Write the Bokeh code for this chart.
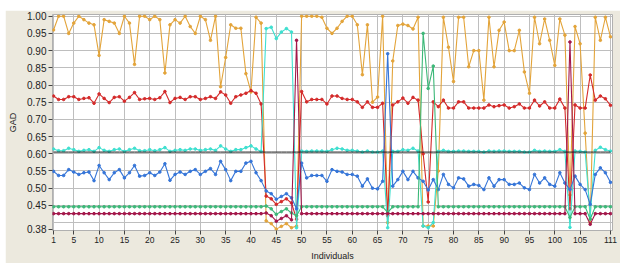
from bokeh.plotting import figure
from bokeh.models import FixedTicker, Range1d, NumeralTickFormatter
from bokeh.embed import file_html
from bokeh.resources import INLINE

individuals = list(range(1, 112))

x_ticks = [1, 5, 10, 15, 20, 25, 30, 35, 40, 45, 50, 55, 60, 65, 70, 75, 80, 85,
           90, 95, 100, 105, 111]
y_ticks = [0.38, 0.45, 0.50, 0.55, 0.60, 0.65, 0.70, 0.75, 0.80, 0.85, 0.90, 0.95, 1.00]
y_grid = [0.40, 0.45, 0.50, 0.55, 0.60, 0.65, 0.70, 0.75, 0.80, 0.85, 0.90, 0.95, 1.00]

orange = [0.96, 1.0, 1.0, 0.95, 0.98, 1.0, 0.99, 0.98, 0.975, 0.886,
          0.99, 0.985, 0.98, 0.95, 1.0, 0.98, 0.86, 1.0, 1.0, 0.99,
          1.0, 0.99, 0.835, 0.975, 0.99, 0.98, 1.0, 0.97, 0.95, 1.0,
          0.99, 0.93, 1.0, 0.795, 0.88, 0.975, 0.965, 0.965, 0.833, 0.78,
          0.997, 0.98, 0.405, 0.397, 0.381, 0.389, 0.397, 0.385, 0.39, 1.0,
          1.0, 1.0, 1.0, 0.997, 0.965, 0.95, 0.965, 0.985, 1.0, 1.0,
          0.975, 0.83, 0.975, 0.75, 0.765, 1.0, 0.40, 0.87, 0.973, 0.977,
          0.973, 0.963, 0.997, 0.39, 0.39, 0.39, 0.55, 0.997, 0.91, 0.81,
          0.997, 0.997, 0.853, 0.90, 0.90, 0.756, 0.997, 0.853, 0.959, 0.983,
          0.90, 0.90, 0.959, 0.838, 0.776, 0.997, 0.92, 0.992, 0.93, 0.857,
          0.992, 0.945, 0.48, 0.97, 0.92, 0.66, 0.40, 0.997, 0.93, 0.997,
          0.94]

red = [0.768, 0.758, 0.758, 0.766, 0.766, 0.758, 0.761, 0.763, 0.747, 0.774,
       0.761, 0.749, 0.764, 0.766, 0.753, 0.764, 0.778, 0.758, 0.760, 0.761,
       0.758, 0.763, 0.781, 0.749, 0.761, 0.764, 0.758, 0.766, 0.766, 0.758,
       0.761, 0.766, 0.761, 0.780, 0.771, 0.747, 0.766, 0.771, 0.776, 0.784,
       0.776, 0.745, 0.477, 0.469, 0.453, 0.461, 0.469, 0.457, 0.410, 0.781,
       0.751, 0.758, 0.758, 0.758, 0.745, 0.768, 0.768, 0.761, 0.758, 0.758,
       0.751, 0.735, 0.751, 0.735, 0.735, 0.747, 0.420, 0.742, 0.751, 0.762,
       0.747, 0.764, 0.756, 0.600, 0.460, 0.751, 0.737, 0.756, 0.733, 0.733,
       0.751, 0.751, 0.733, 0.733, 0.733, 0.733, 0.742, 0.737, 0.740, 0.742,
       0.733, 0.737, 0.745, 0.733, 0.733, 0.756, 0.739, 0.751, 0.733, 0.733,
       0.759, 0.733, 0.440, 0.742, 0.733, 0.733, 0.829, 0.756, 0.768, 0.760,
       0.741]

cyan = [0.614, 0.609, 0.609, 0.616, 0.612, 0.607, 0.610, 0.612, 0.607, 0.618,
        0.610, 0.607, 0.612, 0.614, 0.607, 0.612, 0.616, 0.609, 0.609, 0.612,
        0.609, 0.612, 0.618, 0.607, 0.610, 0.612, 0.610, 0.614, 0.614, 0.610,
        0.612, 0.614, 0.610, 0.623, 0.614, 0.607, 0.612, 0.612, 0.618, 0.623,
        0.614, 0.607, 0.964, 0.968, 0.935, 0.954, 0.964, 0.954, 0.385, 0.608,
        0.607, 0.608, 0.608, 0.608, 0.607, 0.612, 0.616, 0.614, 0.610, 0.610,
        0.608, 0.605, 0.608, 0.605, 0.605, 0.608, 0.385, 0.607, 0.607, 0.612,
        0.610, 0.616, 0.608, 0.390, 0.385, 0.400, 0.607, 0.610, 0.607, 0.607,
        0.608, 0.608, 0.607, 0.607, 0.607, 0.605, 0.608, 0.607, 0.608, 0.608,
        0.607, 0.607, 0.607, 0.605, 0.605, 0.610, 0.607, 0.608, 0.607, 0.607,
        0.612, 0.607, 0.386, 0.608, 0.607, 0.605, 0.420, 0.610, 0.619, 0.612,
        0.608]

blue = [0.549, 0.537, 0.537, 0.554, 0.547, 0.540, 0.545, 0.547, 0.522, 0.566,
        0.545, 0.525, 0.545, 0.554, 0.530, 0.545, 0.566, 0.535, 0.537, 0.545,
        0.537, 0.547, 0.571, 0.523, 0.540, 0.547, 0.540, 0.549, 0.554, 0.540,
        0.549, 0.557, 0.540, 0.578, 0.554, 0.522, 0.549, 0.549, 0.573, 0.578,
        0.545, 0.522, 0.492, 0.484, 0.468, 0.476, 0.484, 0.472, 0.440, 0.573,
        0.530, 0.537, 0.537, 0.537, 0.520, 0.554, 0.549, 0.547, 0.540, 0.540,
        0.535, 0.506, 0.527, 0.500, 0.498, 0.520, 0.891, 0.506, 0.525, 0.549,
        0.525, 0.549, 0.530, 0.520, 0.495, 0.525, 0.496, 0.540, 0.511, 0.501,
        0.530, 0.527, 0.506, 0.511, 0.508, 0.496, 0.530, 0.506, 0.525, 0.525,
        0.511, 0.511, 0.515, 0.501, 0.496, 0.540, 0.515, 0.530, 0.511, 0.506,
        0.545, 0.515, 0.496, 0.535, 0.511, 0.496, 0.453, 0.540, 0.559, 0.545,
        0.517]

green = [0.446, 0.446, 0.446, 0.446, 0.446, 0.446, 0.446, 0.446, 0.446, 0.446,
         0.446, 0.446, 0.446, 0.446, 0.446, 0.446, 0.446, 0.446, 0.446, 0.446,
         0.446, 0.446, 0.446, 0.446, 0.446, 0.446, 0.446, 0.446, 0.446, 0.446,
         0.446, 0.446, 0.446, 0.446, 0.446, 0.446, 0.446, 0.446, 0.446, 0.446,
         0.446, 0.446, 0.448, 0.440, 0.424, 0.432, 0.440, 0.428, 0.420, 0.446,
         0.446, 0.446, 0.446, 0.446, 0.446, 0.446, 0.446, 0.446, 0.446, 0.446,
         0.446, 0.446, 0.446, 0.446, 0.446, 0.446, 0.430, 0.446, 0.446, 0.446,
         0.446, 0.446, 0.446, 0.950, 0.790, 0.855, 0.446, 0.446, 0.446, 0.446,
         0.446, 0.446, 0.446, 0.446, 0.446, 0.446, 0.446, 0.446, 0.446, 0.446,
         0.446, 0.446, 0.446, 0.446, 0.446, 0.446, 0.446, 0.446, 0.446, 0.446,
         0.446, 0.446, 0.415, 0.446, 0.446, 0.446, 0.410, 0.446, 0.446, 0.446,
         0.446]

maroon = [0.426, 0.426, 0.426, 0.426, 0.426, 0.426, 0.426, 0.426, 0.426, 0.426,
          0.426, 0.426, 0.426, 0.426, 0.426, 0.426, 0.426, 0.426, 0.426, 0.426,
          0.426, 0.426, 0.426, 0.426, 0.426, 0.426, 0.426, 0.426, 0.426, 0.426,
          0.426, 0.426, 0.426, 0.426, 0.426, 0.426, 0.426, 0.426, 0.426, 0.426,
          0.426, 0.426, 0.428, 0.420, 0.404, 0.412, 0.420, 0.408, 0.930, 0.426,
          0.426, 0.426, 0.426, 0.426, 0.426, 0.426, 0.426, 0.426, 0.426, 0.426,
          0.426, 0.426, 0.426, 0.426, 0.426, 0.426, 0.426, 0.426, 0.426, 0.426,
          0.426, 0.426, 0.426, 0.426, 0.426, 0.426, 0.426, 0.426, 0.426, 0.426,
          0.426, 0.426, 0.426, 0.426, 0.426, 0.426, 0.426, 0.426, 0.426, 0.426,
          0.426, 0.426, 0.426, 0.426, 0.426, 0.426, 0.426, 0.426, 0.426, 0.426,
          0.426, 0.426, 0.925, 0.426, 0.426, 0.426, 0.395, 0.426, 0.426, 0.426,
          0.426]

threshold = 0.605

p = figure(width=615, height=253, output_backend="svg", toolbar_location=None,
           x_range=Range1d(0.8, 111.4), y_range=Range1d(0.377, 1.005),
           min_border_left=43, min_border_right=8, min_border_top=4,
           min_border_bottom=32)
p.margin = (10, 4, 2, 5)
p.border_fill_color = "#ECE9DE"
p.background_fill_color = "white"
p.outline_line_color = "#B0B0B0"

p.xaxis.ticker = FixedTicker(ticks=x_ticks)
p.yaxis.ticker = FixedTicker(ticks=y_ticks)
p.yaxis.formatter = NumeralTickFormatter(format="0.00")
p.xgrid.ticker = FixedTicker(ticks=x_ticks)
p.ygrid.ticker = FixedTicker(ticks=y_grid)
for g in (p.xgrid, p.ygrid):
    g.grid_line_color = "#BEBEBE"
    g.grid_line_width = 1

for ax in (p.xaxis, p.yaxis):
    ax.axis_line_color = None
    ax.major_tick_line_color = "#444444"
    ax.major_tick_out = 4
    ax.major_tick_in = 0
    ax.minor_tick_line_color = None
    ax.major_label_text_font = "Liberation Sans"
    ax.major_label_text_color = "#222222"
    ax.axis_label_text_font = "Liberation Sans"
    ax.axis_label_text_font_style = "normal"
    ax.axis_label_text_color = "#222222"
    ax.axis_label_text_font_size = "9px"
    ax.major_label_standoff = 2

p.yaxis.major_label_text_font_size = "10px"
p.xaxis.major_label_text_font_size = "8.5px"
p.yaxis.axis_label = "GAD"
p.xaxis.axis_label = "Individuals"
p.yaxis.axis_label_standoff = 6
p.xaxis.axis_label_standoff = 5

series = [
    (orange, "#E3A43A"),
    (red, "#D42A2A"),
    (cyan, "#3EE0D0"),
    (blue, "#3575D8"),
    (green, "#3CB878"),
    (maroon, "#A3174A"),
]
for ys, col in series:
    p.line(individuals, ys, line_color=col, line_width=1.1)
    p.scatter(individuals, ys, size=2.6, fill_color=col, line_color=col)

p.line(individuals, [threshold for _ in individuals], line_color="#1A1A1A", line_width=1)

open("out.html", "w").write(file_html(p, INLINE))
